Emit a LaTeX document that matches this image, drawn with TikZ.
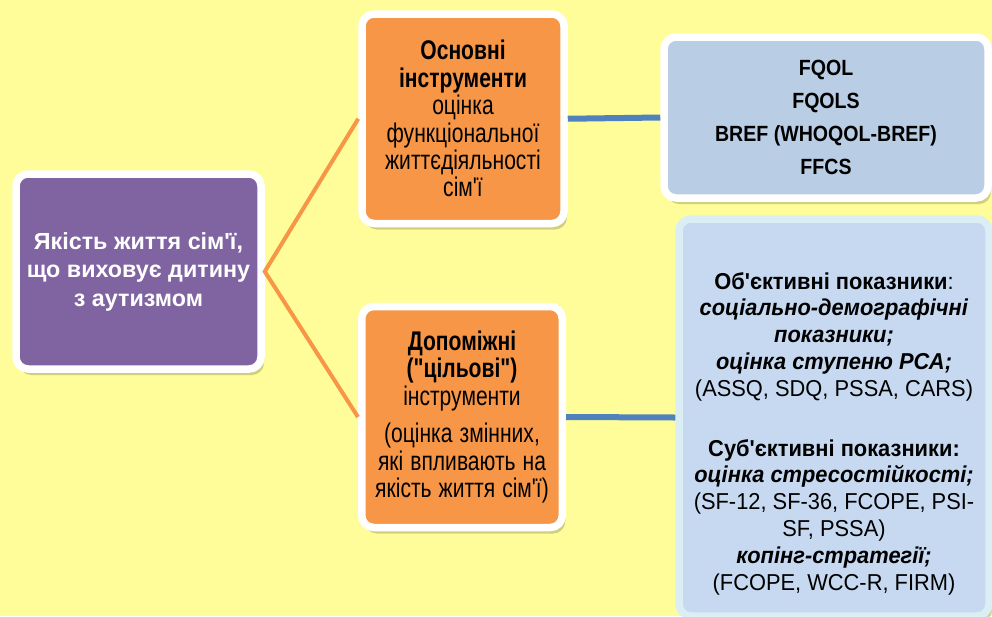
\documentclass[tikz,border=0pt]{standalone}
\usepackage{fontspec}
\setmainfont{Liberation Sans}
\newfontfamily\famsf{Liberation Sans}
\newfontfamily\toolsf[FakeStretch=0.78,WordSpace=1.2]{Liberation Sans}
\newfontfamily\scalesf[FakeStretch=0.89]{Liberation Sans}
\newfontfamily\indsf[FakeStretch=0.95]{Liberation Sans}
\usetikzlibrary{shadows}
\definecolor{bgyellow}{RGB}{255,253,153}
\definecolor{famviolet}{RGB}{128,100,162}
\definecolor{toolorange}{RGB}{247,150,70}
\definecolor{scaleblue}{RGB}{185,205,229}
\definecolor{indblue}{RGB}{198,217,240}
\definecolor{indrim}{RGB}{219,238,244}
\definecolor{linkblue}{RGB}{79,129,189}

\begin{document}
\begin{tikzpicture}[x=1pt,y=-1pt,rounded corners=12pt,
  box/.style={draw=white,line width=\rimwidth,align=flush center,inner sep=0pt,
    drop shadow={shadow xshift=3pt,shadow yshift=-6pt,opacity=0.18,fill=black}}]
\def\rimwidth{7.5pt}
\fill[bgyellow,sharp corners] (0,0) rectangle (992,616);
\useasboundingbox (0,0) rectangle (992,616);
\clip[sharp corners] (0,0) rectangle (992,616);
\node[box,fill=famviolet,text=white,minimum width=245pt,minimum height=195pt,text width=240pt,font=\famsf\bfseries\fontsize{23.3}{28.5}\selectfont] (fam) at (138.5,271.5) {Якість життя сім'ї,\\ що виховує дитину\\ з аутизмом};
\node[box,fill=toolorange,minimum width=202pt,minimum height=209.5pt,text width=194pt,font=\toolsf\fontsize{27}{27.4}\selectfont] (main) at (463,118.75) {\textbf{Основні}\\ \textbf{інструменти}\\ оцінка\\ функціональної\\ життєдіяльності\\ сім'ї};
\node[box,fill=toolorange,minimum width=200.5pt,minimum height=221pt,text width=194pt,font=\toolsf\fontsize{27}{27.4}\selectfont] (aux) at (462,417) {\textbf{Допоміжні}\\ \textbf{("цільові")}\\ інструменти\\[10pt] (оцінка змінних,\\ які впливають на\\ якість життя сім'ї)};
\node[box,fill=scaleblue,minimum width=324pt,minimum height=161pt,text width=300pt,font=\scalesf\bfseries\fontsize{22}{33}\selectfont] (scales) at (826,117.5) {FQOL\\ FQOLS\\ BREF (WHOQOL-BREF)\\ FFCS};
\node[box,draw=indrim,fill=indblue,minimum width=310pt,minimum height=397pt] (ind) at (834,417.5) {};
\node[text width=300pt,align=flush center,inner sep=0pt,font=\indsf\fontsize{23}{26.8}\selectfont] (indtxt) at ([yshift=-16pt]ind.center) {\textbf{Об'єктивні показники}:\\ \textbf{\itshape соціально-демографічні}\\ \textbf{\itshape показники;}\\ \textbf{\itshape оцінка ступеню РСА;}\\ (ASSQ, SDQ, PSSA, CARS)\\[33pt] \textbf{Суб'єктивні показники:}\\ \textbf{\itshape оцінка стресостійкості;}\\ (SF-12, SF-36, FCOPE, PSI-\\ SF, PSSA)\\ \textbf{\itshape копінг-стратегії;}\\ (FCOPE, WCC-R, FIRM)};
\draw[toolorange,line width=4pt,sharp corners] (main.west) -- (fam.east) -- (aux.west);
\draw[linkblue,line width=6pt] (main.east) -- (scales.west);
\draw[linkblue,line width=6pt] (aux.east) -- (ind.west);
\end{tikzpicture}
\end{document}
